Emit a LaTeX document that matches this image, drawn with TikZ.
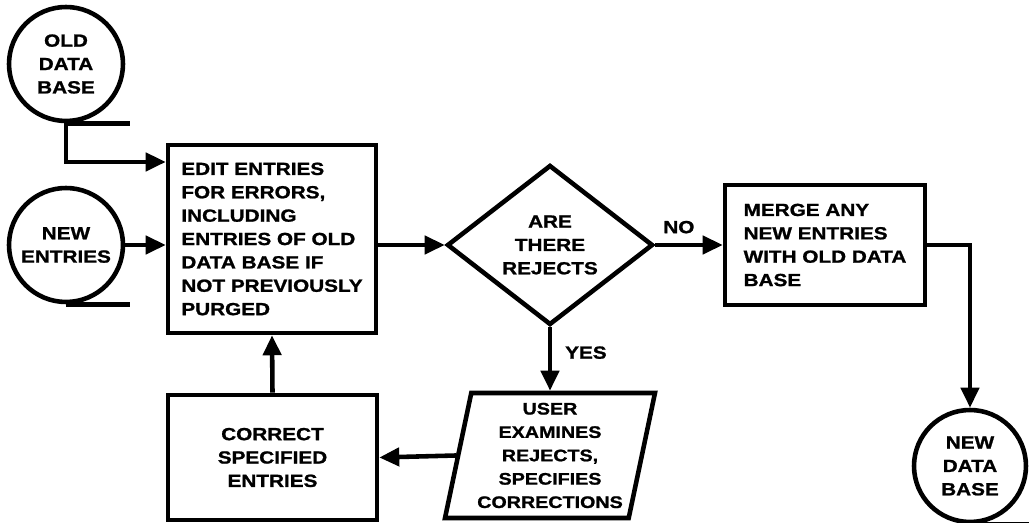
\documentclass[tikz,border=0pt]{standalone}
\usepackage{fontspec}
\newfontfamily\chartfont[FakeStretch=1.18, FakeBold=1.2]{Liberation Sans}
\usetikzlibrary{shapes.geometric, arrows.meta, calc}
\tikzstyle{store}=[circle, draw=black, line width=2.6pt, minimum size=2.28cm, inner sep=0pt, align=center]
\tikzstyle{process}=[rectangle, draw=black, line width=2.6pt, inner sep=0pt]
\tikzstyle{decision}=[diamond, draw=black, line width=2.6pt, minimum width=4.12cm, minimum height=3.2cm, inner sep=0pt, align=center]
\tikzstyle{manual}=[trapezium, trapezium left angle=76, trapezium right angle=104, trapezium stretches body, draw=black, line width=2.6pt, minimum width=4.2cm, minimum height=2.5cm, inner xsep=3pt, inner ysep=0pt, align=center]
\tikzstyle{flow}=[-{Triangle[length=0.4cm, width=0.36cm]}, line width=2.6pt]
\tikzstyle{tail}=[line width=2.6pt]

\begin{document}
\begin{tikzpicture}[x=0.02cm, y=-0.02cm,
  every node/.style={font=\chartfont\bfseries\fontsize{10}{13.3}\selectfont}]
      \useasboundingbox (0,0) rectangle (1029,523);

      % stores and steps
      \node[store] (olddb) at (66,64) {OLD\\DATA\\BASE};
      \node[store] (newent) at (66,245) {NEW\\ENTRIES};
      \node[process, minimum width=4.16cm, minimum height=3.76cm, align=left]
        (edit) at (272,239) {EDIT ENTRIES\\FOR ERRORS,\\INCLUDING\\ENTRIES OF OLD\\DATA BASE IF\\NOT PREVIOUSLY\\PURGED};
      \node[decision] (dia) at (550,245) {ARE\\THERE\\REJECTS};
      \node[process, minimum width=4cm, minimum height=2.4cm, align=left]
        (merge) at (825,245) {MERGE ANY\\NEW ENTRIES\\WITH OLD DATA\\BASE};
      \node[store, minimum size=2.24cm] (newdb) at (970,466) {NEW\\DATA\\BASE};
      \node[manual, font=\chartfont\bfseries\fontsize{9.5}{13.3}\selectfont]
        (user) at (550,455.5) {USER\\EXAMINES\\REJECTS,\\SPECIFIES\\CORRECTIONS};
      \node[process, minimum width=4.18cm, minimum height=2.5cm, align=center]
        (correct) at (272.5,457.5) {CORRECT\\SPECIFIED\\ENTRIES};

      % tape tails
      \draw[tail] (olddb.south) -- ++(64,0);
      \draw[tail] (newent.south) -- ++(64,0);
      \draw[tail] (newdb.south) -- ++(62,0);

      % flow lines
      \coordinate (editin) at ($(edit.north west)!0.1!(edit.south west)$);
      \draw[flow] (olddb.south) |- (editin);
      \draw[flow] (newent.east) -- (newent.east -| edit.west);
      \draw[flow] (edit.east |- dia.west) -- (dia.west);
      \draw[flow] (dia.east) -- node[pos=0.35, above=2pt] {NO} (merge.west);
      \draw[flow] (merge.east) -| (newdb.north);
      \draw[flow] (dia.south) -- node[pos=0.4, right=4pt] {YES} (dia.south |- user.north);
      \draw[flow] (user.west) -- (correct.east);
      \draw[flow] (correct.north) -- (edit.south);
    \end{tikzpicture}
\end{document}
